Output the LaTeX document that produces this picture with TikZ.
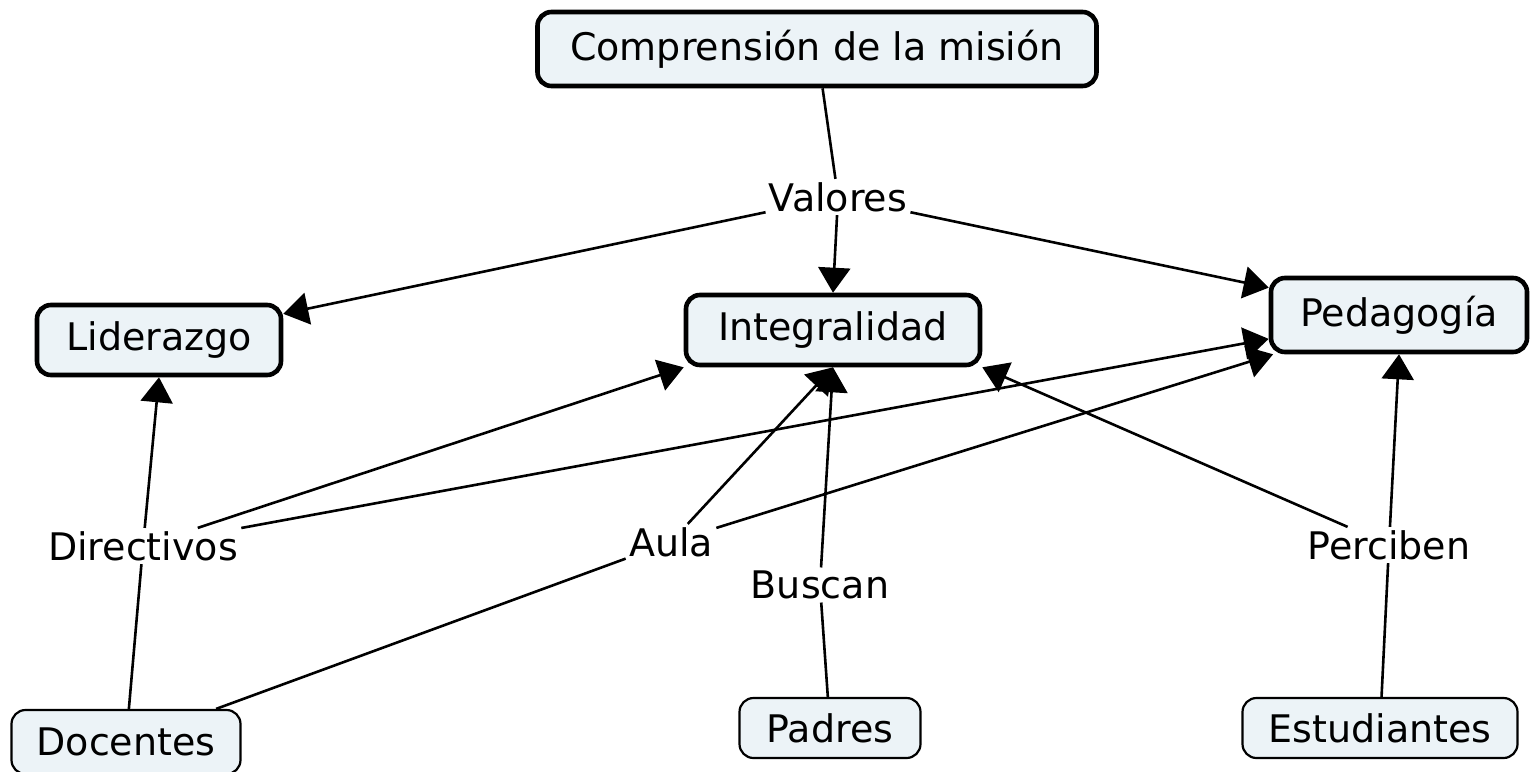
\documentclass[tikz,border=0pt]{standalone}
\usepackage{fontspec}
\setmainfont{DejaVu Sans}
\usetikzlibrary{arrows.meta}
\definecolor{cfill}{RGB}{236,243,247}
\begin{document}
\begin{tikzpicture}[x=0.5pt,y=-0.5pt,
  font=\fontsize{19}{23}\selectfont,
  concept/.style={draw, fill=cfill, rounded corners=7pt, inner sep=0pt, align=center},
  thickbox/.style={concept, line width=2.3pt},
  thinbox/.style={concept, line width=1.1pt},
  lbl/.style={inner sep=1.5pt},
  link/.style={line width=1.3pt},
  arr/.style={link, -{Triangle[length=12.5pt,width=16pt]}}
]
\useasboundingbox (0,0) rectangle (1531,771);
\node[thickbox, minimum width=279.5pt, minimum height=37pt] (comp) at (817,49) {Comprensión de la misión};
\node[thickbox, minimum width=122pt, minimum height=35pt] (lid) at (159,340) {Liderazgo};
\node[thickbox, minimum width=147pt, minimum height=35pt] (integ) at (833,330) {Integralidad};
\node[thickbox, minimum width=128pt, minimum height=37pt] (ped) at (1399,315) {Pedagogía};
\node[thinbox, minimum width=114.5pt, minimum height=32pt] (doc) at (126,742) {Docentes};
\node[thinbox, minimum width=90.5pt, minimum height=30pt] (pad) at (830,728) {Padres};
\node[thinbox, minimum width=137.5pt, minimum height=30pt] (est) at (1380,728) {Estudiantes};

\node[lbl] (val) at (838,197) {Valores};
\node[lbl] (dir) at (143,546) {Directivos};
\node[lbl] (aula) at (671,542) {Aula};
\node[lbl] (bus) at (820,585) {Buscan};
\node[lbl] (per) at (1389,545) {Perciben};

\draw[link] (comp) -- (val);
\draw[arr] (val) -- (integ.north);
\draw[arr] (val) -- (lid);
\draw[arr] (val) -- (ped);

\draw[link] (doc) -- (dir);
\draw[arr] (dir) -- (lid.south);
\draw[arr] (dir) -- (integ.south west);
\draw[arr] (dir) -- (ped);

\draw[link] (doc) -- (aula);
\draw[arr] (aula) -- (integ.south);
\draw[arr] (aula) -- (ped);

\draw[link] (pad) -- (bus);
\draw[arr] (bus) -- (integ.south);

\draw[link] (est) -- (per);
\draw[arr] (per) -- (ped.south);
\draw[arr] (per) -- (integ.south east);
\end{tikzpicture}
\end{document}
